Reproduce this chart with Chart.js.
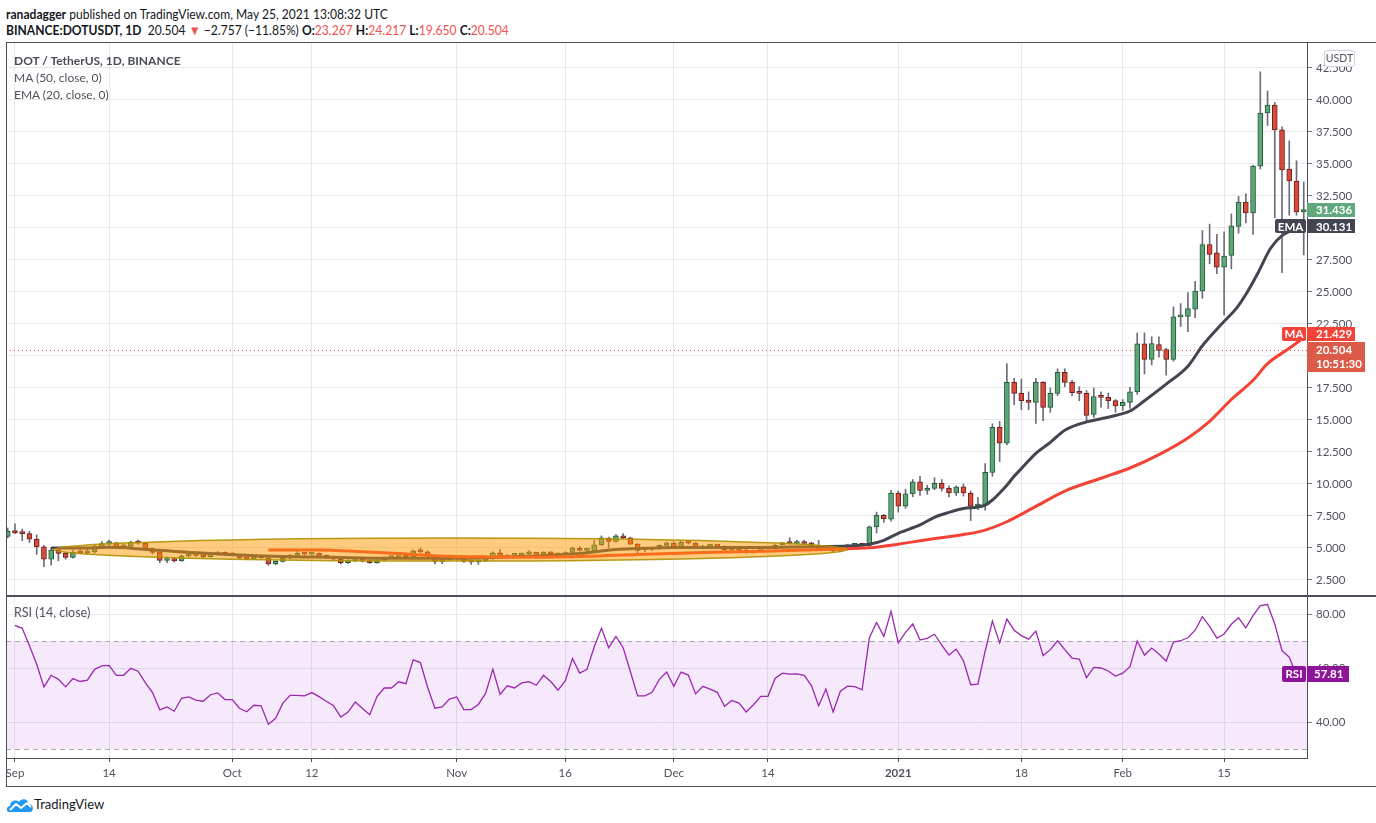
<!DOCTYPE html>
<html>
<head>
<meta charset="utf-8">
<script src="https://cdn.jsdelivr.net/npm/chart.js@4.4.0/dist/chart.umd.min.js"></script>
<style>
  body { margin:0; width:1376px; height:823px; position:relative; overflow:hidden; background:#fff;
         font-family: Lato, "Noto Sans", sans-serif; color:#131722; }
  .abs { position:absolute; white-space:nowrap; }
  .narrow { transform: scaleX(0.93); transform-origin: left top; }
  .frame { position:absolute; background:#4c4f57; }
  canvas { position:absolute; left:0; }
  .red { color:#ef5350; }
  b { font-weight:700; }
</style>
</head>
<body>
<div class="abs narrow" style="left:6px; top:6px; font-size:13px;"><b>ranadagger</b> published on TradingView.com, May 25, 2021 13:08:32 UTC</div>
<div class="abs narrow" style="left:6px; top:22px; font-size:13px;"><b>BINANCE:DOTUSDT, 1D</b>&nbsp; 20.504 <span class="red">▼</span> −2.757 (−11.85%) <b>O:</b><span class="red">23.267</span> <b>H:</b><span class="red">24.217</span> <b>L:</b><span class="red">19.650</span> <b>C:</b><span class="red">20.504</span></div>

<canvas id="priceChart" width="1376" height="553" style="top:42px;"></canvas>
<canvas id="rsiChart" width="1376" height="189" style="top:597px;"></canvas>

<div class="frame" style="left:6px; top:42px; width:1370px; height:1px;"></div>
<div class="frame" style="left:6px; top:42px; width:1px; height:745px;"></div>
<div class="frame" style="left:6px; top:595px; width:1370px; height:2px;"></div>
<div class="frame" style="left:6px; top:786px; width:1370px; height:1px;"></div>

<div class="abs" style="left:14px; top:53px; font-size:12px; font-weight:700; color:#4a4d57;">DOT / TetherUS, 1D, BINANCE</div>
<div class="abs" style="left:14px; top:70px; font-size:12px; color:#50535e;">MA (50, close, 0)</div>
<div class="abs" style="left:14px; top:87px; font-size:12px; color:#50535e;">EMA (20, close, 0)</div>
<div class="abs" style="left:14px; top:605px; font-size:12.5px; color:#50535e;">RSI (14, close)</div>
<div class="abs" style="left:1324px; top:50px; width:29px; height:15px; border:1px solid #d1d4dc; border-radius:3px; background:#fff; font-size:10.5px; color:#50535e; text-align:center; line-height:15px;">USDT</div>

<svg class="abs" style="left:6px; top:796px;" width="28" height="18" viewBox="0 0 28 18">
  <path d="M3 16 C0 16 0 10 4 10 C4 5 10 3 13 6 C15 2 22 2 23 8 C28 8 28 16 24 16 Z" fill="#2196f3"/>
  <path d="M4 14 L10 8 L15 12 L21 7 L25 11" stroke="#fff" stroke-width="2" fill="none" stroke-linejoin="round"/>
</svg>
<div class="abs" style="left:34px; top:796px; font-size:13px; color:#131722;">TradingView</div>

<script>
// day index 0 = 1 Sep 2020, first candle on 31 Aug
const firstDay = -1;

const opens = [
  5.9, 6.3, 6.22, 6.12, 5.68, 5.1, 4.12, 4.84, 4.58, 4.27,
  4.7, 4.62, 4.7, 5.12, 5.35, 5.4, 5.1, 5.12, 5.45, 5.38,
  4.95, 4.68, 4.02, 4.18, 4.0, 4.38, 4.5, 4.42, 4.33, 4.52,
  4.65, 4.5, 4.46, 4.22, 4.15, 4.27, 4.2, 3.75, 3.95, 4.22,
  4.43, 4.58, 4.52, 4.58, 4.38, 4.28, 4.12, 3.85, 4.0, 4.12,
  3.97, 3.86, 4.05, 4.25, 4.26, 4.37, 4.3, 4.77, 4.7, 4.35,
  3.95, 4.08, 4.17, 4.15, 3.95, 3.92, 4.0, 4.17, 4.63, 4.3,
  4.42, 4.44, 4.55, 4.56, 4.52, 4.66, 4.58, 4.45, 4.65, 4.98,
  4.82, 4.75, 5.25, 5.78, 5.52, 5.95, 5.8, 5.3, 4.88, 4.9,
  4.95, 5.2, 5.38, 5.05, 5.45, 5.38, 4.98, 5.15, 5.2, 5.12,
  4.85, 4.98, 4.85, 4.65, 4.8, 4.95, 4.95, 5.25, 5.4, 5.35,
  5.4, 5.4, 5.2, 4.9, 5.05, 4.75, 5.1, 5.2, 5.25, 5.2,
  6.65, 7.55, 7.25, 9.3, 8.26, 9.22, 10.16, 9.5, 9.66, 10.06,
  9.66, 9.3, 9.77, 9.3, 8.28, 8.36, 10.9, 14.43, 13.18, 17.94,
  17.08, 16.55, 16.38, 17.94, 15.99, 17.08, 18.72, 17.94, 17.16, 17.08,
  15.44, 16.85, 16.77, 16.51, 16.09, 16.38, 17.2, 20.95, 19.74, 20.9,
  20.5, 19.74, 23.05, 23.1, 23.65, 25.08, 28.7, 28.05, 26.93, 27.86,
  30.13, 32.03, 31.17, 34.82, 38.98, 39.6, 37.66, 34.6, 33.67, 31.25
];
const highs = [
  6.56, 6.88, 6.48, 6.3, 6.02, 5.2, 5.05, 4.95, 4.7, 4.82,
  4.85, 4.9, 5.25, 5.5, 5.62, 5.45, 5.3, 5.55, 5.62, 5.42,
  5.0, 4.75, 4.3, 4.25, 4.45, 4.6, 4.6, 4.5, 4.6, 4.72,
  4.7, 4.6, 4.52, 4.3, 4.35, 4.4, 4.28, 4.02, 4.3, 4.5,
  4.8, 4.66, 4.7, 4.62, 4.45, 4.35, 4.18, 4.1, 4.2, 4.18,
  4.02, 4.12, 4.3, 4.38, 4.45, 4.42, 4.85, 5.0, 4.78, 4.42,
  4.15, 4.25, 4.22, 4.2, 4.02, 4.08, 4.22, 4.7, 4.9, 4.5,
  4.52, 4.62, 4.8, 4.62, 4.72, 4.7, 4.62, 4.7, 5.08, 5.12,
  4.98, 5.6, 5.95, 5.85, 6.05, 6.12, 5.85, 5.35, 5.0, 5.05,
  5.25, 5.45, 5.48, 5.55, 5.55, 5.42, 5.22, 5.28, 5.25, 5.18,
  5.05, 5.02, 4.9, 4.85, 5.0, 5.08, 5.28, 5.45, 5.8, 5.6,
  5.6, 5.45, 5.6, 5.15, 5.1, 5.15, 5.3, 5.35, 5.3, 6.72,
  7.8, 7.62, 9.5, 9.45, 9.6, 10.35, 10.6, 9.9, 10.5, 10.35,
  9.85, 9.85, 10.0, 9.45, 8.95, 11.6, 14.7, 14.9, 19.4, 18.25,
  18.2, 17.2, 18.25, 18.0, 17.5, 19.0, 19.0, 18.1, 17.6, 17.3,
  17.5, 17.2, 17.1, 16.6, 16.6, 17.55, 21.8, 21.8, 21.5, 21.5,
  20.6, 23.83, 24.1, 24.95, 25.83, 29.8, 30.3, 29.5, 29.7, 31.1,
  32.47, 32.68, 34.9, 42.2, 40.7, 39.8, 37.9, 36.8, 35.25, 33.6
];
const lows = [
  5.78, 6.12, 5.57, 5.44, 4.5, 3.54, 3.67, 4.0, 4.12, 4.2,
  4.55, 4.5, 4.6, 5.05, 5.2, 5.0, 5.0, 5.05, 5.28, 4.88,
  4.55, 3.85, 3.85, 3.9, 3.95, 4.3, 4.35, 4.2, 4.28, 4.45,
  4.4, 4.38, 4.15, 4.08, 4.1, 4.18, 3.65, 3.68, 3.9, 4.15,
  4.38, 4.42, 4.45, 4.3, 4.2, 4.05, 3.75, 3.8, 3.95, 3.9,
  3.8, 3.82, 4.0, 4.18, 4.2, 4.22, 4.25, 4.62, 4.3, 3.75,
  3.78, 4.02, 4.05, 3.88, 3.72, 3.72, 3.95, 4.12, 4.25, 4.22,
  4.35, 4.4, 4.46, 4.45, 4.48, 4.5, 4.38, 4.4, 4.6, 4.75,
  4.72, 4.7, 5.2, 5.0, 5.45, 5.7, 5.25, 4.5, 4.7, 4.82,
  4.9, 5.15, 5.0, 5.0, 5.3, 4.95, 4.92, 5.1, 5.08, 4.8,
  4.78, 4.8, 4.58, 4.6, 4.75, 4.9, 4.9, 5.2, 5.3, 5.3,
  5.28, 5.15, 4.8, 4.85, 4.7, 4.7, 5.05, 5.15, 4.95, 5.15,
  6.17, 7.0, 7.1, 7.8, 8.1, 9.0, 9.1, 9.2, 9.55, 9.45,
  9.0, 9.1, 9.05, 7.14, 8.0, 7.95, 10.6, 11.75, 13.05, 16.2,
  15.8, 15.8, 14.74, 14.95, 15.6, 16.9, 17.6, 16.9, 16.5, 14.95,
  15.2, 16.0, 15.9, 15.6, 15.75, 15.9, 17.0, 18.6, 19.3, 19.9,
  18.5, 19.6, 22.3, 21.9, 23.0, 24.5, 27.2, 26.43, 23.2, 26.8,
  29.6, 30.4, 29.5, 34.6, 38.0, 30.8, 26.5, 31.0, 31.0, 27.9
];
const closes = [
  6.3, 6.2, 6.12, 5.68, 5.1, 4.12, 4.84, 4.58, 4.27, 4.66,
  4.62, 4.7, 5.12, 5.35, 5.4, 5.1, 5.12, 5.45, 5.38, 4.95,
  4.65, 4.02, 4.18, 4.0, 4.38, 4.5, 4.42, 4.33, 4.52, 4.65,
  4.5, 4.46, 4.22, 4.15, 4.27, 4.25, 3.75, 3.95, 4.22, 4.43,
  4.58, 4.52, 4.58, 4.38, 4.28, 4.12, 3.85, 4.02, 4.12, 3.97,
  3.86, 4.05, 4.25, 4.28, 4.37, 4.3, 4.77, 4.7, 4.35, 3.95,
  4.08, 4.17, 4.15, 3.95, 3.92, 4.0, 4.17, 4.63, 4.3, 4.42,
  4.44, 4.55, 4.56, 4.52, 4.66, 4.55, 4.45, 4.65, 5.0, 4.82,
  4.9, 5.25, 5.8, 5.52, 5.95, 5.8, 5.3, 4.82, 4.9, 4.95,
  5.2, 5.4, 5.05, 5.45, 5.38, 5.0, 5.15, 5.2, 5.15, 4.85,
  4.98, 4.85, 4.65, 4.78, 4.95, 5.0, 5.2, 5.35, 5.35, 5.4,
  5.35, 5.2, 4.85, 5.1, 4.75, 5.1, 5.2, 5.22, 5.2, 6.65,
  7.55, 7.27, 9.3, 8.27, 9.24, 10.16, 9.5, 9.66, 10.06, 9.66,
  9.3, 9.77, 9.3, 8.26, 8.36, 10.92, 14.43, 13.18, 17.94, 17.08,
  16.5, 16.38, 17.94, 15.99, 17.08, 18.72, 17.94, 17.14, 17.08, 15.36,
  16.82, 16.77, 16.51, 16.09, 16.38, 17.2, 20.95, 19.74, 20.96, 20.44,
  19.74, 23.05, 23.12, 23.7, 25.08, 28.7, 27.94, 26.93, 27.81, 30.16,
  32.03, 31.17, 34.84, 38.98, 39.6, 37.66, 34.53, 33.67, 31.25, 31.436
];

// EMA 20 and MA 50: [day, value]
const emaPoints = [
  [5, 5.0], [9, 5.0], [13, 5.05], [17, 4.95], [20, 4.82], [25, 4.62], [31, 4.45], [37, 4.33],
  [44, 4.27], [51, 4.2], [60, 4.2], [69, 4.32], [78, 4.58], [83, 4.89], [87, 4.98], [91, 5.03],
  [100, 5.03], [110, 5.1], [115, 5.15], [118, 5.3], [120, 5.6], [122, 6.15], [125, 6.8], [127, 7.4],
  [129, 7.78], [131, 8.08], [133, 8.2], [134, 8.35], [135, 8.75], [136, 9.3], [137, 9.9], [138, 10.6],
  [139, 11.2], [141, 12.4], [143, 13.25], [145, 14.2], [148, 14.85], [150, 15.1], [152, 15.35],
  [154, 15.7], [156, 16.5], [159, 17.8], [162, 19.2], [164, 20.8], [166.5, 22.4], [168.8, 23.8],
  [170, 24.8], [171.6, 26.4], [173.4, 28.4], [175, 29.4], [178, 30.131]
];
const maPoints = [
  [35, 4.85], [42, 4.85], [48, 4.7], [55, 4.5], [60, 4.35], [66, 4.3], [72, 4.28], [79, 4.35],
  [86, 4.5], [95, 4.64], [105, 4.77], [114, 4.92], [118, 5.02], [122, 5.3], [126, 5.65], [131, 6.05],
  [134, 6.4], [137, 7.05], [141, 8.25], [145, 9.45], [150, 10.45], [154, 11.25], [158, 12.3],
  [162, 13.6], [165, 14.9], [168, 16.6], [171, 18.1], [173, 19.4], [176, 20.6], [178, 21.429]
];

// RSI 14 from 1 Sep
const rsiFirstDay = 0;
const rsiValues = [
  75.8, 74.7, 68.2, 61.4, 53.0, 57.3, 55.8, 53.0, 56.1, 55.0,
  55.5, 59.5, 60.8, 61.0, 57.3, 57.3, 59.9, 58.8, 54.6, 50.9,
  44.5, 45.6, 44.0, 48.8, 49.3, 48.1, 47.7, 50.1, 50.8, 48.3,
  48.3, 45.1, 43.8, 46.2, 46.0, 39.2, 41.4, 47.0, 49.9, 49.9,
  49.7, 50.9, 49.4, 47.7, 46.0, 41.8, 43.7, 47.4, 45.0, 42.7,
  49.4, 52.6, 52.6, 54.9, 54.2, 63.0, 62.0, 52.8, 45.1, 45.6,
  48.5, 49.3, 44.6, 44.6, 46.5, 50.6, 59.5, 50.2, 53.4, 52.6,
  54.5, 54.9, 53.6, 57.3, 55.0, 51.8, 55.2, 63.5, 58.1, 59.5,
  67.8, 74.7, 67.5, 71.7, 67.5, 58.6, 49.7, 49.7, 51.0, 55.8,
  58.5, 53.2, 58.5, 57.4, 50.4, 53.2, 52.2, 51.0, 45.8, 48.0,
  47.0, 43.7, 46.4, 49.5, 49.5, 56.2, 58.1, 57.7, 57.8, 57.3,
  53.5, 46.0, 52.2, 43.7, 51.4, 53.3, 53.1, 51.9, 71.1, 76.9,
  71.7, 81.0, 69.3, 73.2, 76.3, 70.4, 71.0, 72.5, 68.5, 64.8,
  67.0, 62.7, 53.8, 54.0, 66.3, 77.4, 69.3, 78.1, 74.0, 72.0,
  70.7, 73.7, 64.6, 66.8, 70.1, 66.8, 63.7, 63.3, 56.4, 60.2,
  60.0, 58.9, 57.0, 58.1, 60.5, 70.0, 64.8, 67.4, 65.2, 62.6,
  69.6, 70.1, 71.2, 74.0, 79.0, 75.4, 71.1, 72.6, 76.2, 78.6,
  74.9, 79.4, 83.1, 83.5, 76.3, 66.4, 64.0, 57.2, 57.81
];

const tickDays = [0, 13, 30, 41, 61, 76, 91, 104, 122, 139, 153, 167];
const tickLabels = ['Sep', '14', 'Oct', '12', 'Nov', '16', 'Dec', '14', '2021', '18', 'Feb', '15'];
const priceTicks = [2.5, 5, 7.5, 10, 12.5, 15, 17.5, 20, 22.5, 25, 27.5, 30, 32.5, 35, 37.5, 40, 42.5];
const rsiTicks = [40, 60, 80];
const rsiBand = [30, 70];
const lastPrice = 20.504;
const lastPriceTimer = '10:51:30';
// hand-drawn ellipse around the Sep-Dec range
const zone = { fromDay: 5.3, toDay: 115, midPrice: 4.88, halfRange: 0.9 };

const xMin = -1.24, xMax = 178.45;
const gridColor = '#e8e8ea';
const axisColor = '#4c4f57';
const labelColor = '#50535e';
const fontFam = 'Lato, "Noto Sans", sans-serif';

const days = opens.map((v, i) => firstDay + i);
const isUp = days.map((d, i) => closes[i] >= opens[i]);

// keep the plot area exactly where the layout puts it
function noEdgePadding(s) {
  s.paddingTop = 0; s.paddingBottom = 0; s.paddingLeft = 0; s.paddingRight = 0;
}

function box(ctx, x, yc, w, h, color, text) {
  ctx.fillStyle = color;
  ctx.fillRect(x, Math.round(yc - h / 2), w, h);
  ctx.fillStyle = '#fff';
  ctx.font = 'bold 11.5px ' + fontFam;
  ctx.textBaseline = 'middle';
  ctx.fillText(text, x + 9, yc + 0.5);
}
function tag(ctx, x, yc, w, h, color, text) {
  ctx.fillStyle = color;
  ctx.beginPath();
  ctx.roundRect(x, Math.round(yc - h / 2), w, h, 2);
  ctx.fill();
  ctx.fillStyle = '#fff';
  ctx.font = 'bold 11.5px ' + fontFam;
  ctx.textAlign = 'center';
  ctx.textBaseline = 'middle';
  ctx.fillText(text, x + w / 2, yc + 0.5);
  ctx.textAlign = 'left';
}

const pricePlugin = {
  id: 'priceExtras',
  beforeDatasetsDraw(chart) {
    const { ctx, chartArea, scales } = chart;
    const y = Math.round(scales.y.getPixelForValue(lastPrice)) + 0.5;
    ctx.save();
    ctx.strokeStyle = '#ef5350';
    ctx.lineWidth = 1;
    ctx.setLineDash([1, 3]);
    ctx.beginPath();
    ctx.moveTo(chartArea.left, y);
    ctx.lineTo(chartArea.right, y);
    ctx.stroke();
    ctx.restore();
  },
  afterDatasetsDraw(chart) {
    const { ctx, scales } = chart;
    const x1 = scales.x.getPixelForValue(zone.fromDay);
    const x2 = scales.x.getPixelForValue(zone.toDay);
    const yc = scales.y.getPixelForValue(zone.midPrice);
    const ry = Math.abs(scales.y.getPixelForValue(zone.midPrice + zone.halfRange) - yc);
    ctx.save();
    ctx.beginPath();
    ctx.ellipse((x1 + x2) / 2, yc, (x2 - x1) / 2, ry, 0, 0, Math.PI * 2);
    ctx.fillStyle = 'rgba(255,152,0,0.5)';
    ctx.fill();
    ctx.strokeStyle = 'rgba(175,145,0,0.9)';
    ctx.lineWidth = 1.5;
    ctx.stroke();
    ctx.restore();
  },
  afterDraw(chart) {
    const { ctx, scales, chartArea } = chart;
    const ax = chartArea.right;
    const yClose = scales.y.getPixelForValue(closes[closes.length - 1]);
    const yEma = scales.y.getPixelForValue(emaPoints[emaPoints.length - 1][1]);
    const yMa = scales.y.getPixelForValue(maPoints[maPoints.length - 1][1]);
    const yLast = scales.y.getPixelForValue(lastPrice);
    ctx.save();
    // current price with countdown
    const top = Math.round(yLast - 8);
    ctx.fillStyle = '#dc5a48';
    ctx.fillRect(ax, top, 58, 30);
    ctx.fillStyle = '#fff';
    ctx.font = 'bold 11.5px ' + fontFam;
    ctx.textBaseline = 'middle';
    ctx.fillText(lastPrice.toFixed(3), ax + 9, top + 8);
    ctx.fillText(lastPriceTimer, ax + 9, top + 22);
    box(ctx, ax, yClose, 48, 14, '#62a87e', closes[closes.length - 1].toFixed(3));
    box(ctx, ax, yEma, 48, 14, '#434651', emaPoints[emaPoints.length - 1][1].toFixed(3));
    tag(ctx, ax - 32, yEma, 31, 14, '#434651', 'EMA');
    const yMaBox = Math.min(yMa, top - 8);
    box(ctx, ax, yMaBox, 48, 14, '#f44336', maPoints[maPoints.length - 1][1].toFixed(3));
    tag(ctx, ax - 25, yMaBox, 24, 14, '#f44336', 'MA');
    ctx.restore();
  }
};

new Chart(document.getElementById('priceChart'), {
  type: 'bar',
  data: {
    datasets: [
      {
        type: 'line', label: 'MA 50',
        data: maPoints.map(p => ({ x: p[0], y: p[1] })),
        borderColor: '#f44336', borderWidth: 3, pointRadius: 0,
        cubicInterpolationMode: 'monotone', order: 1
      },
      {
        type: 'line', label: 'EMA 20',
        data: emaPoints.map(p => ({ x: p[0], y: p[1] })),
        borderColor: '#434651', borderWidth: 3, pointRadius: 0,
        cubicInterpolationMode: 'monotone', order: 2
      },
      {
        label: 'body',
        data: days.map((d, i) => ({ x: d, y: [opens[i], closes[i]] })),
        backgroundColor: isUp.map(u => u ? '#5fa57a' : '#d84b3c'),
        borderColor: isUp.map(u => u ? '#225b37' : '#6e1f1a'),
        borderWidth: 1, borderSkipped: false, barThickness: 5, minBarLength: 2,
        grouped: false, order: 3
      },
      {
        label: 'wick',
        data: days.map((d, i) => ({ x: d, y: [lows[i], highs[i]] })),
        backgroundColor: '#6b6e78', barThickness: 1, grouped: false, order: 4
      }
    ]
  },
  options: {
    responsive: false, animation: false,
    layout: { padding: { left: 6, right: 0, top: 0, bottom: 0 } },
    plugins: { legend: { display: false }, tooltip: { enabled: false } },
    scales: {
      x: {
        type: 'linear', min: xMin, max: xMax, offset: false,
        grid: { color: gridColor, drawTicks: false, offset: false },
        border: { display: false },
        ticks: { display: false },
        afterBuildTicks: s => { s.ticks = tickDays.map(v => ({ value: v })); },
        afterFit: s => { s.height = 0; noEdgePadding(s); }
      },
      y: {
        position: 'right', min: 1.328, max: 44.53, beginAtZero: false,
        grid: { color: gridColor, tickLength: 5, tickColor: '#787b86' },
        border: { display: true, color: axisColor },
        ticks: { color: labelColor, font: { family: fontFam, size: 11.5 }, padding: 4,
                 callback: v => v.toFixed(3) },
        afterBuildTicks: s => { s.ticks = priceTicks.map(v => ({ value: v })); },
        afterFit: s => { s.width = 69; noEdgePadding(s); }
      }
    }
  },
  plugins: [pricePlugin]
});

const rsiPlugin = {
  id: 'rsiExtras',
  beforeDatasetsDraw(chart) {
    const { ctx, chartArea, scales } = chart;
    const yTop = scales.y.getPixelForValue(rsiBand[1]);
    const yBot = scales.y.getPixelForValue(rsiBand[0]);
    ctx.save();
    ctx.fillStyle = 'rgba(156,39,220,0.1)';
    ctx.fillRect(chartArea.left, yTop, chartArea.right - chartArea.left, yBot - yTop);
    ctx.strokeStyle = '#a8a8b0';
    ctx.setLineDash([5, 4]);
    ctx.lineWidth = 1;
    [yTop, yBot].forEach(y => {
      ctx.beginPath();
      ctx.moveTo(chartArea.left, Math.round(y) + 0.5);
      ctx.lineTo(chartArea.right, Math.round(y) + 0.5);
      ctx.stroke();
    });
    ctx.restore();
  },
  afterDraw(chart) {
    const { ctx, scales, chartArea } = chart;
    const v = rsiValues[rsiValues.length - 1];
    const y = scales.y.getPixelForValue(v);
    ctx.save();
    ctx.fillStyle = '#8e1599';
    ctx.fillRect(chartArea.right, Math.round(y - 8), 42, 16);
    ctx.fillStyle = '#fff';
    ctx.font = 'bold 11.5px ' + fontFam;
    ctx.textBaseline = 'middle';
    ctx.fillText(v.toFixed(2), chartArea.right + 7, y + 0.5);
    tag(ctx, chartArea.right - 25, y, 24, 16, '#8e1599', 'RSI');
    ctx.restore();
  }
};

new Chart(document.getElementById('rsiChart'), {
  type: 'line',
  data: {
    datasets: [{
      label: 'RSI',
      data: rsiValues.map((v, i) => ({ x: rsiFirstDay + i, y: v })),
      borderColor: '#9c27b0', borderWidth: 1.3, pointRadius: 0, tension: 0
    }]
  },
  options: {
    responsive: false, animation: false,
    layout: { padding: { left: 6, right: 0, top: 0, bottom: 0 } },
    plugins: { legend: { display: false }, tooltip: { enabled: false } },
    scales: {
      x: {
        type: 'linear', min: xMin, max: xMax,
        grid: { color: gridColor, tickLength: 4, tickColor: axisColor },
        border: { display: true, color: axisColor },
        ticks: {
          color: labelColor, padding: 4, maxRotation: 0, autoSkip: false,
          font: c => ({ family: fontFam, size: 11.5, weight: c.tick && c.tick.value === 122 ? 'bold' : 'normal' }),
          callback: (v, i) => tickLabels[i]
        },
        afterBuildTicks: s => { s.ticks = tickDays.map(v => ({ value: v })); },
        afterFit: s => { s.height = 28; noEdgePadding(s); }
      },
      y: {
        position: 'right', min: 26.67, max: 86.3,
        grid: { color: gridColor, tickLength: 5, tickColor: '#787b86' },
        border: { display: true, color: axisColor },
        ticks: { color: labelColor, font: { family: fontFam, size: 11.5 }, padding: 4,
                 callback: v => v.toFixed(2) },
        afterBuildTicks: s => { s.ticks = rsiTicks.map(v => ({ value: v })); },
        afterFit: s => { s.width = 69; noEdgePadding(s); }
      }
    }
  },
  plugins: [rsiPlugin]
});
</script>
</body>
</html>
